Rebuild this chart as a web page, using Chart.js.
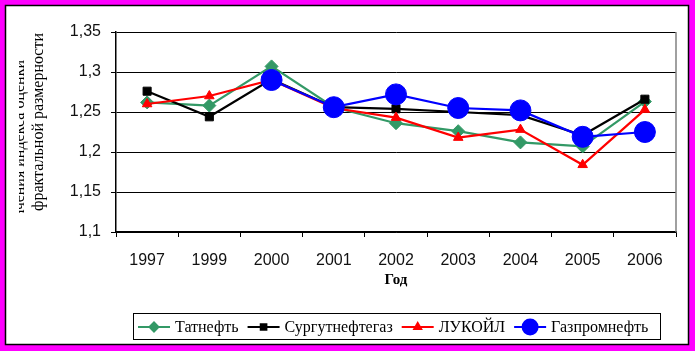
<!DOCTYPE html>
<html>
<head>
<meta charset="utf-8">
<script src="https://cdn.jsdelivr.net/npm/chart.js@4"></script>
<style>
  html, body { margin: 0; padding: 0; background: #fff; }
  canvas { display: block; }
</style>
</head>
<body>
<canvas id="chart" width="695" height="351"></canvas>
<script>
const years = ['1997', '1999', '2000', '2001', '2002', '2003', '2004', '2005', '2006'];
const tatneft = [1.262, 1.258, 1.307, 1.256, 1.236, 1.226, 1.212, 1.207, 1.263];
const surgut = [1.276, 1.244, 1.291, 1.256, 1.254, 1.250, 1.246, 1.221, 1.266];
const lukoil = [1.260, 1.270, 1.290, 1.255, 1.243, 1.218, 1.228, 1.184, 1.253];
const gazprom = [null, null, 1.290, 1.256, 1.272, 1.255, 1.252, 1.219, 1.225];
const yTicks = [1.1, 1.15, 1.2, 1.25, 1.3, 1.35];

const sansFont = '"Liberation Sans", Arial, sans-serif';
const serifFont = '"Liberation Serif", "Times New Roman", serif';

function series(label, data, color, style, radius, order) {
  return {
    label: label,
    data: data,
    borderColor: color,
    backgroundColor: color,
    borderWidth: 2.2,
    pointStyle: style,
    pointRadius: radius,
    pointHoverRadius: radius,
    pointBackgroundColor: color,
    pointBorderColor: color,
    pointBorderWidth: 1,
    tension: 0,
    spanGaps: true,
    order: order
  };
}

const datasets = [
  series('Татнефть', tatneft, '#339966', 'rectRot', 6.5, 3),
  series('Сургутнефтегаз', surgut, '#000000', 'rect', 5.7, 2),
  series('ЛУКОЙЛ', lukoil, '#ff0000', 'triangle', 5.5, 1),
  series('Газпромнефть', gazprom, '#0000ff', 'circle', 10.5, 0)
];
const legendRadius = [4.5, 4, 4, 7.5];

// frame, axis title, plot border and legend
const decor = {
  id: 'decor',
  beforeDraw(chart) {
    const ctx = chart.ctx;
    ctx.save();
    ctx.fillStyle = '#ff00ff';
    ctx.fillRect(0, 0, chart.width, chart.height);
    ctx.fillStyle = '#ffffff';
    ctx.fillRect(5, 5, 684, 340);
    ctx.strokeStyle = '#000';
    ctx.lineWidth = 1.5;
    ctx.strokeRect(5.5, 5.5, 683, 339);

    // y axis title, cut off like in the original
    ctx.beginPath();
    ctx.rect(19, 28, 40, 185);
    ctx.clip();
    ctx.fillStyle = '#000';
    ctx.font = '16px ' + serifFont;
    ctx.textAlign = 'right';
    ctx.textBaseline = 'alphabetic';
    ctx.save();
    ctx.translate(24, 60);
    ctx.rotate(-Math.PI / 2);
    ctx.fillText('Значения индекса оценки', 0, 0);
    ctx.restore();
    ctx.save();
    ctx.translate(43, 33);
    ctx.rotate(-Math.PI / 2);
    ctx.fillText('фрактальной размерности', 0, 0);
    ctx.restore();
    ctx.restore();
  },
  beforeDatasetsDraw(chart) {
    const a = chart.chartArea;
    const ctx = chart.ctx;
    ctx.save();
    ctx.strokeStyle = '#808080';
    ctx.lineWidth = 1.5;
    ctx.beginPath();
    ctx.moveTo(a.right, a.top);
    ctx.lineTo(a.right, a.bottom);
    ctx.stroke();
    ctx.restore();
  },
  afterDraw(chart) {
    const ctx = chart.ctx;
    const a = chart.chartArea;
    ctx.save();
    // x axis title
    ctx.fillStyle = '#000';
    ctx.font = 'bold 15px ' + serifFont;
    ctx.textAlign = 'center';
    ctx.textBaseline = 'middle';
    ctx.fillText('Год', (a.left + a.right) / 2, 280);

    // legend
    ctx.strokeStyle = '#000';
    ctx.lineWidth = 1;
    ctx.strokeRect(133.5, 313.5, 527, 26);
    ctx.font = '16px ' + serifFont;
    ctx.textAlign = 'left';
    let x = 138;
    const y = 327;
    datasets.forEach((ds, i) => {
      ctx.strokeStyle = ds.borderColor;
      ctx.lineWidth = 2;
      ctx.beginPath();
      ctx.moveTo(x, y);
      ctx.lineTo(x + 32, y);
      ctx.stroke();
      ctx.fillStyle = ds.borderColor;
      Chart.helpers.drawPoint(ctx, {
        pointStyle: ds.pointStyle,
        radius: legendRadius[i],
        borderWidth: 1
      }, x + 16, y);
      ctx.fillStyle = '#000';
      ctx.fillText(ds.label, x + 37, y + 1);
      x += 37 + ctx.measureText(ds.label).width + 9;
    });
    ctx.restore();
  }
};

new Chart(document.getElementById('chart'), {
  type: 'line',
  data: { labels: years, datasets: datasets },
  options: {
    responsive: false,
    animation: false,
    layout: { padding: { top: 32, right: 19, left: 0, bottom: 0 } },
    plugins: {
      legend: { display: false },
      tooltip: { enabled: false }
    },
    scales: {
      x: {
        offset: true,
        grid: {
          offset: true,
          drawOnChartArea: false,
          drawTicks: true,
          tickLength: 5,
          tickColor: '#000'
        },
        border: { color: '#000', width: 1.5 },
        ticks: {
          color: '#111',
          font: { family: sansFont, size: 16 },
          padding: 14,
          maxRotation: 0,
          autoSkip: false
        },
        afterFit(scale) { scale.height = 119; }
      },
      y: {
        min: 1.1,
        max: 1.35,
        afterBuildTicks(scale) {
          scale.ticks = yTicks.map(v => ({ value: v }));
        },
        grid: {
          color: '#000',
          lineWidth: 1,
          tickLength: 5,
          tickColor: '#000'
        },
        border: { color: '#000', width: 1.5 },
        ticks: {
          color: '#111',
          font: { family: sansFont, size: 16 },
          padding: 10,
          callback: v => String(Number(v.toFixed(2))).replace('.', ',')
        },
        afterFit(scale) { scale.width = 116; }
      }
    }
  },
  plugins: [decor]
});
</script>
</body>
</html>
